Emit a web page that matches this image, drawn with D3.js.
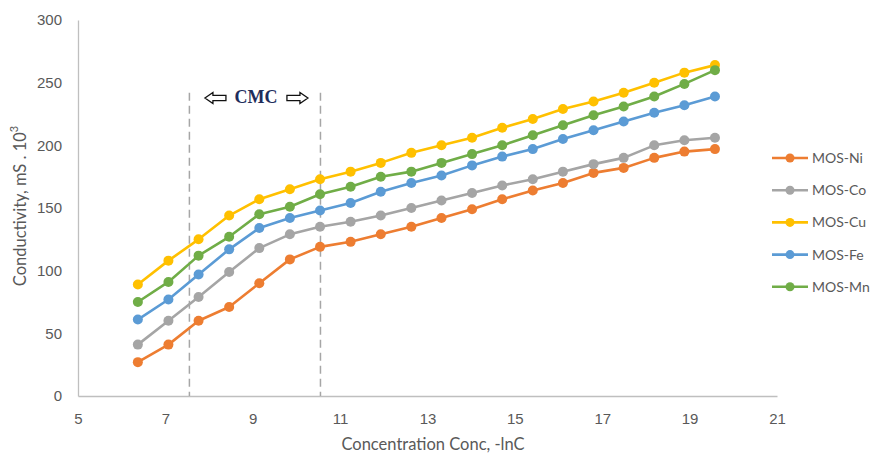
<!DOCTYPE html>
<html>
<head>
<meta charset="utf-8">
<script src="https://cdn.jsdelivr.net/npm/d3@7"></script>
<style>
  html, body { margin: 0; padding: 0; background: #fff; }
  svg { display: block; font-family: Lato, "Open Sans", "Liberation Sans", sans-serif; }
</style>
</head>
<body>
<svg id="chart" width="878" height="456"></svg>
<script>
// ---- data ----
const concentration = [6.37, 7.07, 7.76, 8.46, 9.15, 9.85, 10.54, 11.24, 11.93, 12.63,
                       13.32, 14.02, 14.71, 15.41, 16.10, 16.80, 17.49, 18.19, 18.88, 19.58];
const mosNi = [27, 41, 60, 71, 90, 109, 119, 123, 129, 135, 142, 149, 157, 164, 170, 178, 182, 190, 195, 197];
const mosCo = [41, 60, 79, 99, 118, 129, 135, 139, 144, 150, 156, 162, 168, 173, 179, 185, 190, 200, 204, 206];
const mosCu = [89, 108, 125, 144, 157, 165, 173, 179, 186, 194, 200, 206, 214, 221, 229, 235, 242, 250, 258, 264];
const mosFe = [61, 77, 97, 117, 134, 142, 148, 154, 163, 170, 176, 184, 191, 197, 205, 212, 219, 226, 232, 239];
const mosMn = [75, 91, 112, 127, 145, 151, 161, 167, 175, 179, 186, 193, 200, 208, 216, 224, 231, 239, 249, 260];
const seriesNames = ["MOS-Ni", "MOS-Co", "MOS-Cu", "MOS-Fe", "MOS-Mn"];
const seriesValues = [mosNi, mosCo, mosCu, mosFe, mosMn];
const seriesColors = ["#ED7D31", "#A5A5A5", "#FFC000", "#5B9BD5", "#70AD47"];
const xTicks = [5, 7, 9, 11, 13, 15, 17, 19, 21];
const yTicks = [0, 50, 100, 150, 200, 250, 300];
const cmcBounds = [7.55, 10.55];
const xTitle = "Concentration Conc, -lnC";
const yTitle = "Conductivity, mS . 10";

// ---- layout ----
const svg = d3.select("#chart");
const x = d3.scaleLinear().domain([5, 21]).range([78, 777]);
const y = d3.scaleLinear().domain([0, 300]).range([396, 20]);
const textColor = "#595959";

// axes
const xAxis = svg.append("g").attr("transform", `translate(0,${y(0)})`)
  .call(d3.axisBottom(x).tickValues(xTicks).tickSize(0).tickPadding(17).tickFormat(d3.format("d")));
xAxis.select(".domain").attr("stroke", "#bfbfbf").attr("stroke-width", 1.3);
xAxis.selectAll("text").attr("fill", textColor).attr("font-size", 15);

const yAxis = svg.append("g").attr("transform", `translate(${x(5)},0)`)
  .call(d3.axisLeft(y).tickValues(yTicks).tickSize(0).tickPadding(16).tickFormat(d3.format("d")));
yAxis.select(".domain").attr("stroke", "#bfbfbf").attr("stroke-width", 1.3);
yAxis.selectAll("text").attr("fill", textColor).attr("font-size", 15);

// CMC dashed lines
svg.append("g").selectAll("line").data(cmcBounds).join("line")
  .attr("x1", d => x(d)).attr("x2", d => x(d))
  .attr("y1", y(242)).attr("y2", y(0))
  .attr("stroke", "#a6a6a6").attr("stroke-width", 1.5)
  .attr("stroke-dasharray", "8,5");

// CMC label with outlined block arrows
const cmcMid = (x(cmcBounds[0]) + x(cmcBounds[1])) / 2;
svg.append("text").attr("x", cmcMid + 1).attr("y", 97).attr("dy", "0.35em")
  .attr("text-anchor", "middle")
  .attr("font-family", "'Liberation Serif', 'DejaVu Serif', serif")
  .attr("font-weight", "bold").attr("font-size", 18).attr("fill", "#1f2d5c")
  .text("CMC");
function blockArrow(tipX, dir, cy) {
  // dir = -1 points left, +1 points right; 21px long
  const len = 21, head = 8, hh = 5.5, sh = 2.6;
  const pts = [
    [0, 0], [head, -hh], [head, -sh], [len, -sh], [len, sh], [head, sh], [head, hh]
  ].map(([a, b]) => [tipX - dir * a, cy + b]);
  svg.append("path").attr("d", "M" + pts.map(p => p.join(",")).join("L") + "Z")
    .attr("fill", "#fff").attr("stroke", "#111").attr("stroke-width", 1.3)
    .attr("stroke-linejoin", "miter");
}
blockArrow(cmcMid - 50, -1, 98);
blockArrow(cmcMid + 53, 1, 98);

// series
const line = d3.line().x((d, i) => x(concentration[i])).y(d => y(d));
seriesValues.forEach((vals, s) => {
  const g = svg.append("g");
  g.append("path").datum(vals).attr("d", line)
    .attr("fill", "none").attr("stroke", seriesColors[s]).attr("stroke-width", 2.6)
    .attr("stroke-linejoin", "round");
  g.selectAll("circle").data(vals).join("circle")
    .attr("cx", (d, i) => x(concentration[i])).attr("cy", d => y(d))
    .attr("r", 5).attr("fill", seriesColors[s]);
});

// legend
const legend = svg.append("g");
seriesNames.forEach((name, s) => {
  const ly = 158 + s * 32.2;
  legend.append("line").attr("x1", 772).attr("x2", 808).attr("y1", ly).attr("y2", ly)
    .attr("stroke", seriesColors[s]).attr("stroke-width", 2.6);
  legend.append("circle").attr("cx", 790).attr("cy", ly).attr("r", 4.5).attr("fill", seriesColors[s]);
  legend.append("text").attr("x", 812).attr("y", ly).attr("dy", "0.35em")
    .attr("font-size", 14).attr("fill", textColor).text(name);
});

// axis titles
svg.append("text").attr("x", 433).attr("y", 444).attr("dy", "0.35em")
  .attr("text-anchor", "middle").attr("font-size", 16.5).attr("fill", textColor).text(xTitle);
const yt = svg.append("text").attr("transform", `translate(20,206) rotate(-90)`)
  .attr("text-anchor", "middle").attr("dy", "0.35em")
  .attr("font-size", 16.5).attr("fill", textColor);
yt.append("tspan").text(yTitle);
yt.append("tspan").attr("font-size", 11).attr("dy", "-0.7em").text("3");
</script>
</body>
</html>
